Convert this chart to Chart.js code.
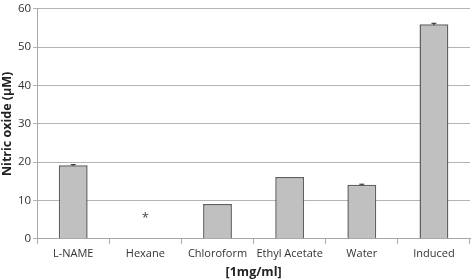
<!DOCTYPE html>
<html>
<head>
<meta charset="utf-8">
<script src="https://cdn.jsdelivr.net/npm/chart.js@4/dist/chart.umd.min.js"></script>
<style>
  html, body { margin: 0; padding: 0; background: #fff; }
  #wrap { width: 472px; height: 280px; }
</style>
</head>
<body>
<div id="wrap"><canvas id="nitric"></canvas></div>
<script>
// values
const categories = ['L-NAME', 'Hexane', 'Chloroform', 'Ethyl Acetate', 'Water', 'Induced'];
const nitricOxide = [19.2, 0, 9.1, 16.1, 14.1, 56.0];
const errors = [0.15, 0, 0, 0, 0.15, 0.25];
const starValue = [null, 6.2, null, null, null, null];
const yTicks = [0, 10, 20, 30, 40, 50, 60];

const fontFam = "'Open Sans', 'Liberation Sans', sans-serif";

// error bars and the asterisk, drawn with the chart's own scales
const extras = {
  id: 'extras',
  afterDatasetsDraw(chart) {
    const ctx = chart.ctx;
    const xs = chart.scales.x, ys = chart.scales.y;
    const meta = chart.getDatasetMeta(0);
    ctx.save();
    ctx.strokeStyle = '#222';
    ctx.lineWidth = 1;
    meta.data.forEach((bar, i) => {
      if (!errors[i]) return;
      const x = bar.x;
      const top = ys.getPixelForValue(nitricOxide[i] + errors[i]);
      const bot = ys.getPixelForValue(nitricOxide[i] - errors[i]);
      ctx.beginPath();
      ctx.moveTo(x, top); ctx.lineTo(x, bot);
      ctx.moveTo(x - 2.5, top); ctx.lineTo(x + 2.5, top);
      ctx.stroke();
    });
    ctx.fillStyle = '#444';
    ctx.font = '13px ' + fontFam;
    ctx.textAlign = 'center';
    ctx.textBaseline = 'middle';
    starValue.forEach((v, i) => {
      if (v == null) return;
      ctx.fillText('*', xs.getPixelForValue(i), ys.getPixelForValue(v) + 3);
    });
    ctx.restore();
  }
};

new Chart(document.getElementById('nitric').getContext('2d'), {
  type: 'bar',
  data: {
    labels: categories,
    datasets: [{
      data: nitricOxide,
      backgroundColor: '#c0c0c0',
      borderColor: '#606060',
      borderWidth: 1.5,
      categoryPercentage: 1,
      barPercentage: 0.4
    }]
  },
  options: {
    responsive: true,
    maintainAspectRatio: false,
    animation: false,
    layout: { padding: { top: 1, right: 2, left: 0, bottom: 0 } },
    plugins: { legend: { display: false }, tooltip: { enabled: false } },
    scales: {
      x: {
        grid: { drawOnChartArea: false, drawTicks: true, tickLength: 5, color: '#a8a8a8' },
        border: { color: '#a8a8a8' },
        ticks: { color: '#333', font: { family: fontFam, size: 11 }, padding: 3,
                 maxRotation: 0, autoSkip: false },
        title: { display: true, text: '[1mg/ml]', color: '#222',
                 font: { family: fontFam, size: 12.5, weight: 'bold' }, padding: { top: 2, bottom: 0 } }
      },
      y: {
        min: 0, max: 60,
        afterBuildTicks(axis) { axis.ticks = yTicks.map(v => ({ value: v })); },
        grid: { color: '#b4b4b4', tickLength: 4 },
        border: { color: '#a8a8a8' },
        ticks: { color: '#333', font: { family: fontFam, size: 11.5 }, padding: 2 },
        title: { display: true, text: 'Nitric oxide (µM)', color: '#222',
                 font: { family: fontFam, size: 12.5, weight: 'bold' }, padding: { top: 0, bottom: 1 } }
      }
    }
  },
  plugins: [extras]
});
</script>
</body>
</html>
